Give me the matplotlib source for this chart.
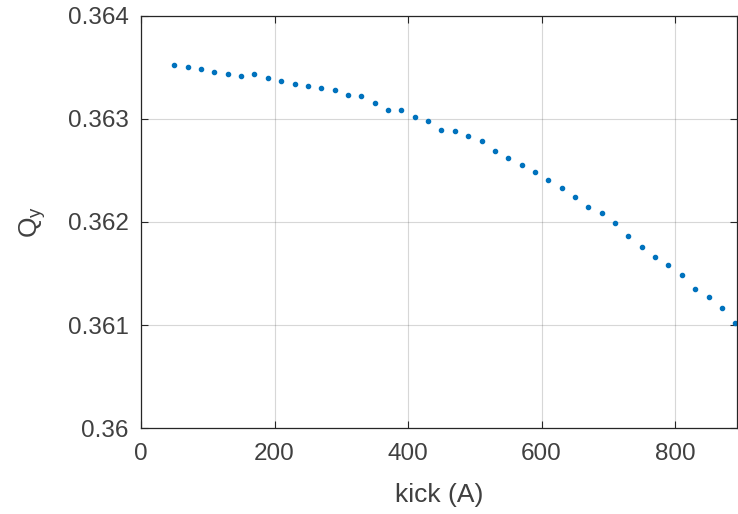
import numpy as np
import matplotlib.pyplot as plt

plt.rcParams['font.family'] = ['Liberation Sans', 'DejaVu Sans']
plt.rcParams['mathtext.fontset'] = 'custom'
plt.rcParams['mathtext.rm'] = 'Liberation Sans'
plt.rcParams['mathtext.it'] = 'Liberation Sans'

kick = np.arange(50, 891, 20)
qy = np.array([0.363529, 0.363506, 0.363486, 0.363461, 0.363437, 0.363418,
               0.363434, 0.363395, 0.363369, 0.363336, 0.363320, 0.363297,
               0.363277, 0.363231, 0.363222, 0.363153, 0.363091, 0.363091,
               0.363023, 0.362983, 0.362892, 0.362888, 0.362839, 0.362784,
               0.362692, 0.362618, 0.362549, 0.362486, 0.362405, 0.362333,
               0.362241, 0.362143, 0.362084, 0.361986, 0.361866, 0.361758,
               0.361657, 0.361578, 0.361483, 0.361349, 0.361275, 0.361163,
               0.361023])
xticks = [0, 200, 400, 600, 800]
yticks = [0.36, 0.361, 0.362, 0.363, 0.364]
ytick_labels = ['0.36', '0.361', '0.362', '0.363', '0.364']

fig = plt.figure(figsize=(7.38, 5.14), dpi=100)
ax = fig.add_axes([0.191, 0.1673, 0.808, 0.8016])

ax.plot(kick, qy, '.', color='#0072BD', markersize=6)

ax.set_xlim(0, 893)
ax.set_ylim(0.36, 0.364)
ax.set_xticks(xticks)
ax.set_yticks(yticks)
ax.set_yticklabels(ytick_labels)
ax.grid(True, color='#262626', alpha=0.18, linewidth=0.8)
ax.set_axisbelow(True)
ax.tick_params(direction='in', top=True, right=True, labelsize=17.5,
               colors='#262626', labelcolor='#404040', length=5)
ax.tick_params(axis='x', pad=11)
ax.tick_params(axis='y', pad=9)
for s in ax.spines.values():
    s.set_color('#262626')
    s.set_linewidth(0.9)

ax.set_xlabel('kick (A)', fontsize=19, color='#404040', labelpad=13)
ax.set_ylabel('Q$_y$', fontsize=19, color='#404040', labelpad=14)

fig.savefig('out.png', dpi=100)
